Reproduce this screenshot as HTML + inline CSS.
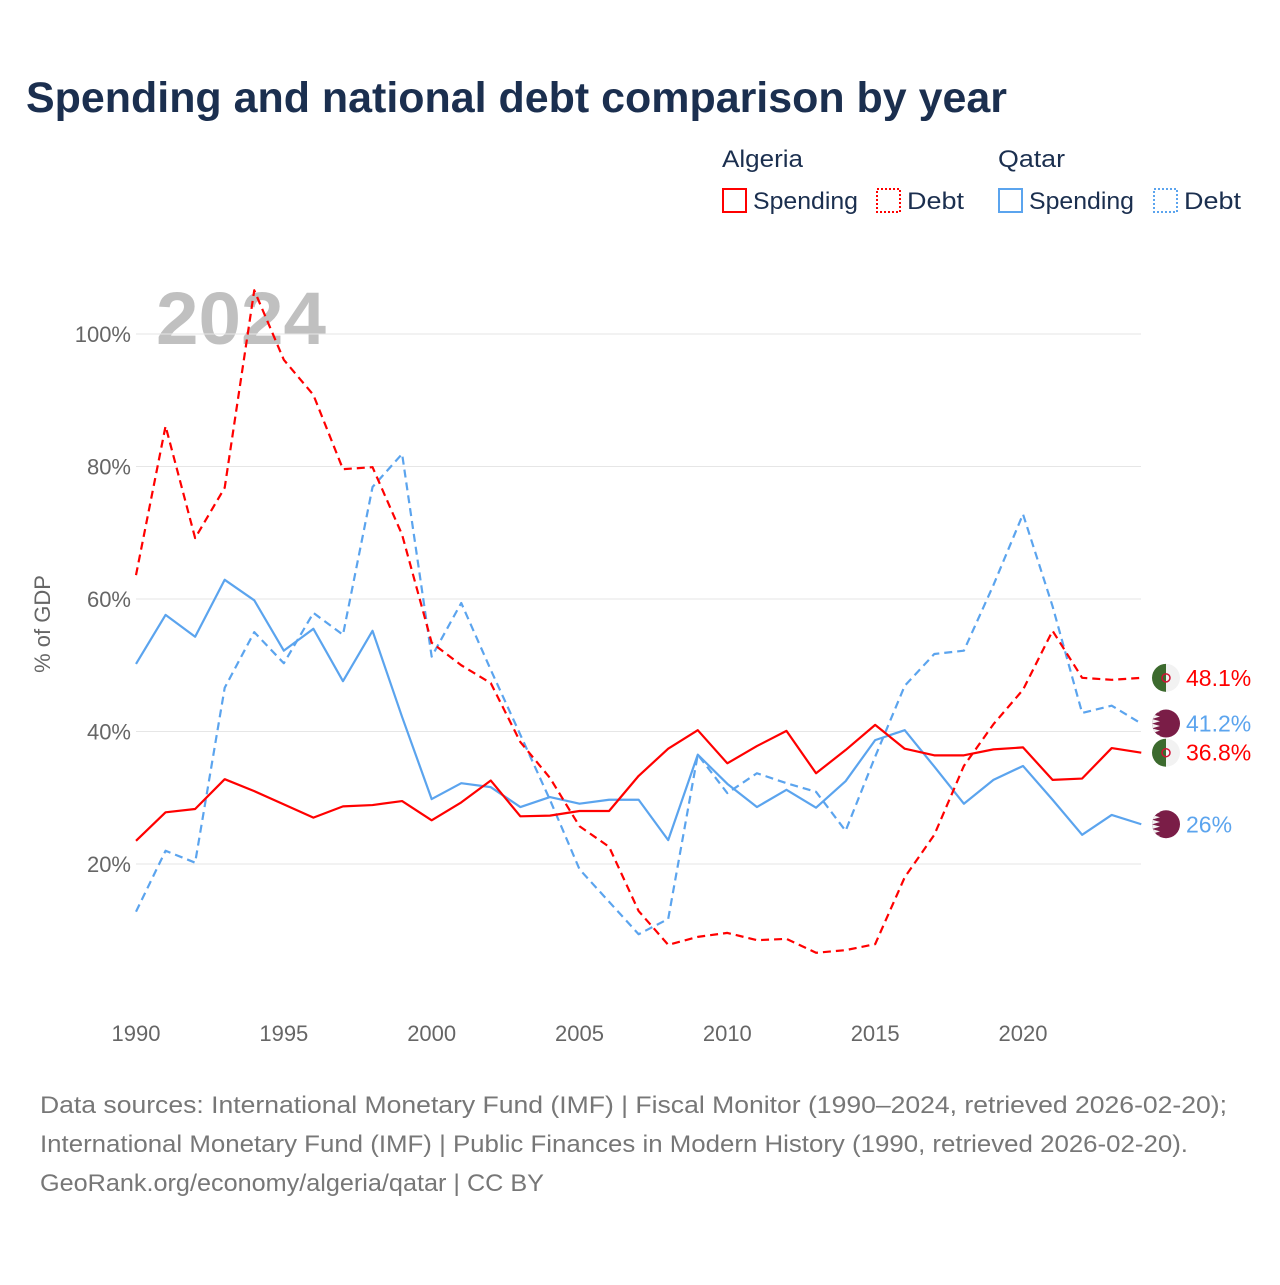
<!DOCTYPE html>
<html><head><meta charset="utf-8">
<style>
body{margin:0;background:#fff;font-family:"Liberation Sans",sans-serif;}
svg text{font-family:"Liberation Sans",sans-serif;}
</style></head>
<body>
<svg width="1280" height="1280" viewBox="0 0 1280 1280">
<text x="26" y="112" font-size="43" font-weight="bold" fill="#1b2f4f" textLength="981" lengthAdjust="spacingAndGlyphs">Spending and national debt comparison by year</text>
<g>
<text x="722" y="167" font-size="24" fill="#1b2f4f" textLength="81" lengthAdjust="spacingAndGlyphs">Algeria</text>
<text x="998" y="167" font-size="24" fill="#1b2f4f" textLength="67" lengthAdjust="spacingAndGlyphs">Qatar</text>
<g><rect x="723" y="189" width="23" height="23" fill="none" stroke="#ff0000" stroke-width="2"/><text x="753" y="209" font-size="24" fill="#1b2f4f" textLength="105" lengthAdjust="spacingAndGlyphs">Spending</text></g>
<g><rect x="877" y="189" width="23" height="23" fill="none" stroke="#ff0000" stroke-width="2" stroke-dasharray="2,2"/><text x="907" y="209" font-size="24" fill="#1b2f4f" textLength="57" lengthAdjust="spacingAndGlyphs">Debt</text></g>
<g><rect x="999" y="189" width="23" height="23" fill="none" stroke="#5ba4ee" stroke-width="2"/><text x="1029" y="209" font-size="24" fill="#1b2f4f" textLength="105" lengthAdjust="spacingAndGlyphs">Spending</text></g>
<g><rect x="1154" y="189" width="23" height="23" fill="none" stroke="#5ba4ee" stroke-width="2" stroke-dasharray="2,2"/><text x="1184" y="209" font-size="24" fill="#1b2f4f" textLength="57" lengthAdjust="spacingAndGlyphs">Debt</text></g>
</g>
<text x="156" y="344" font-size="74" font-weight="bold" fill="#c0c0c0" textLength="170" lengthAdjust="spacingAndGlyphs">2024</text>
<text transform="translate(50,624) rotate(-90)" text-anchor="middle" font-size="22" fill="#666">% of GDP</text>
<g id="grid"></g>
<g id="series"></g>
<g id="ends"></g>
<g font-size="24" fill="#777">
<text x="40" y="1113" textLength="1187" lengthAdjust="spacingAndGlyphs">Data sources: International Monetary Fund (IMF) | Fiscal Monitor (1990–2024, retrieved 2026-02-20);</text>
<text x="40" y="1152" textLength="1148" lengthAdjust="spacingAndGlyphs">International Monetary Fund (IMF) | Public Finances in Modern History (1990, retrieved 2026-02-20).</text>
<text x="40" y="1191" textLength="504" lengthAdjust="spacingAndGlyphs">GeoRank.org/economy/algeria/qatar | CC BY</text>
</g>
</svg>
<script>
const years=[];for(let y=1990;y<=2024;y++)years.push(y);
const xTicks=[1990,1995,2000,2005,2010,2015,2020];
const yTicks=[20,40,60,80,100];
const algeriaSpending=[23.5,27.8,28.3,32.8,31,29,27,28.7,28.9,29.5,26.6,29.3,32.6,27.2,27.3,28,28,33.3,37.4,40.2,35.2,37.8,40.1,33.7,37.2,41,37.4,36.4,36.4,37.3,37.6,32.7,32.9,37.5,36.8];
const algeriaDebt=[63.6,86.1,69.2,76.8,106.6,96.1,90.8,79.6,79.9,69.7,53.4,50,47.3,38.4,33,25.7,22.6,12.9,7.8,9,9.6,8.5,8.7,6.6,7,7.9,18,24.4,34.8,41.1,46.3,55.2,48.1,47.8,48.1];
const qatarSpending=[50.2,57.6,54.3,62.9,59.8,52.2,55.5,47.6,55.2,42.2,29.8,32.2,31.6,28.6,30.1,29.1,29.7,29.7,23.6,36.5,32.1,28.6,31.2,28.5,32.5,38.7,40.2,34.7,29.1,32.7,34.8,29.7,24.4,27.4,26];
const qatarDebt=[12.8,22,20.2,46.6,55,50.3,57.9,54.6,76.9,81.9,51.3,59.4,49.3,39.5,29.7,19.2,14.3,9.4,11.7,36.5,30.7,33.7,32.2,30.9,25,36.2,46.9,51.7,52.2,62.1,72.8,58.9,42.8,43.9,41.2];
const NS="http://www.w3.org/2000/svg";
const X=y=>136+(y-1990)*(887/30);
const Y=v=>996.5-v*6.625;
function mk(tag,attrs,parent){const e=document.createElementNS(NS,tag);for(const k in attrs)e.setAttribute(k,attrs[k]);parent.appendChild(e);return e;}
const grid=document.getElementById('grid');
yTicks.forEach(t=>{
 const l=mk('line',{x1:136,x2:1141,y1:Y(t),y2:Y(t),stroke:'#e6e6e6','stroke-width':1},grid);
 
 
 const tx=mk('text',{x:131,y:Y(t)+8,'text-anchor':'end','font-size':22,fill:'#666'},grid);
 tx.textContent=t+'%';
 
 
});
xTicks.forEach(t=>{
 const tx=mk('text',{x:X(t),y:1041,'text-anchor':'middle','font-size':22,fill:'#666'},grid);
 tx.textContent=t;
 
 
});
const ser=document.getElementById('series');
function line(vals,color,dash,name){
 const p=mk('polyline',{points:vals.map((v,i)=>X(years[i])+','+Y(v)).join(' '),fill:'none',stroke:color,'stroke-width':2.2,'stroke-dasharray':dash||'none','stroke-linejoin':'round'},ser);
 
 
}
line(qatarSpending,'#5ba4ee',null,'line-qatar-spending');
line(qatarDebt,'#5ba4ee','8,5','line-qatar-debt');
line(algeriaSpending,'#ff0000',null,'line-algeria-spending');
line(algeriaDebt,'#ff0000','8,5','line-algeria-debt');
const ends=document.getElementById('ends');
function flag(v,country,color,name){
 const cx=1166,cy=Y(v);
 const g=mk('g',{},ends);
 
 
 if(country==='dz'){
  mk('circle',{cx,cy,r:14,fill:'#f2f2f2'},g);
  mk('path',{d:`M${cx},${cy-14} A14,14 0 0 0 ${cx},${cy+14} Z`,fill:'#3c6a2e'},g);
  mk('circle',{cx,cy,r:4,fill:'none',stroke:'#d21034','stroke-width':1.5},g);
 } else {
  mk('circle',{cx,cy,r:14,fill:'#7a1d47'},g);
  let d=`M${cx-14},${cy-14}`;
  for(let i=0;i<6;i++){d+=` L${cx-6},${cy-14+i*4.7+2.3} L${cx-14},${cy-14+(i+1)*4.7}`;}
  const cp=mk('clipPath',{id:'c'+name},g);mk('circle',{cx,cy,r:14},cp);
  mk('path',{d:d+' Z','fill':'#f2f2f2','clip-path':`url(#c${name})`},g);
 }
 const t=mk('text',{x:1186,y:cy+8,'font-size':23,fill:color},g);
 t.textContent=(Math.round(v*10)/10)+'%';
}
flag(algeriaDebt[34],'dz','#ff0000','end-label-algeria-debt');
flag(qatarDebt[34],'qa','#5ba4ee','end-label-qatar-debt');
flag(algeriaSpending[34],'dz','#ff0000','end-label-algeria-spending');
flag(qatarSpending[34],'qa','#5ba4ee','end-label-qatar-spending');
</script>
</body></html>
